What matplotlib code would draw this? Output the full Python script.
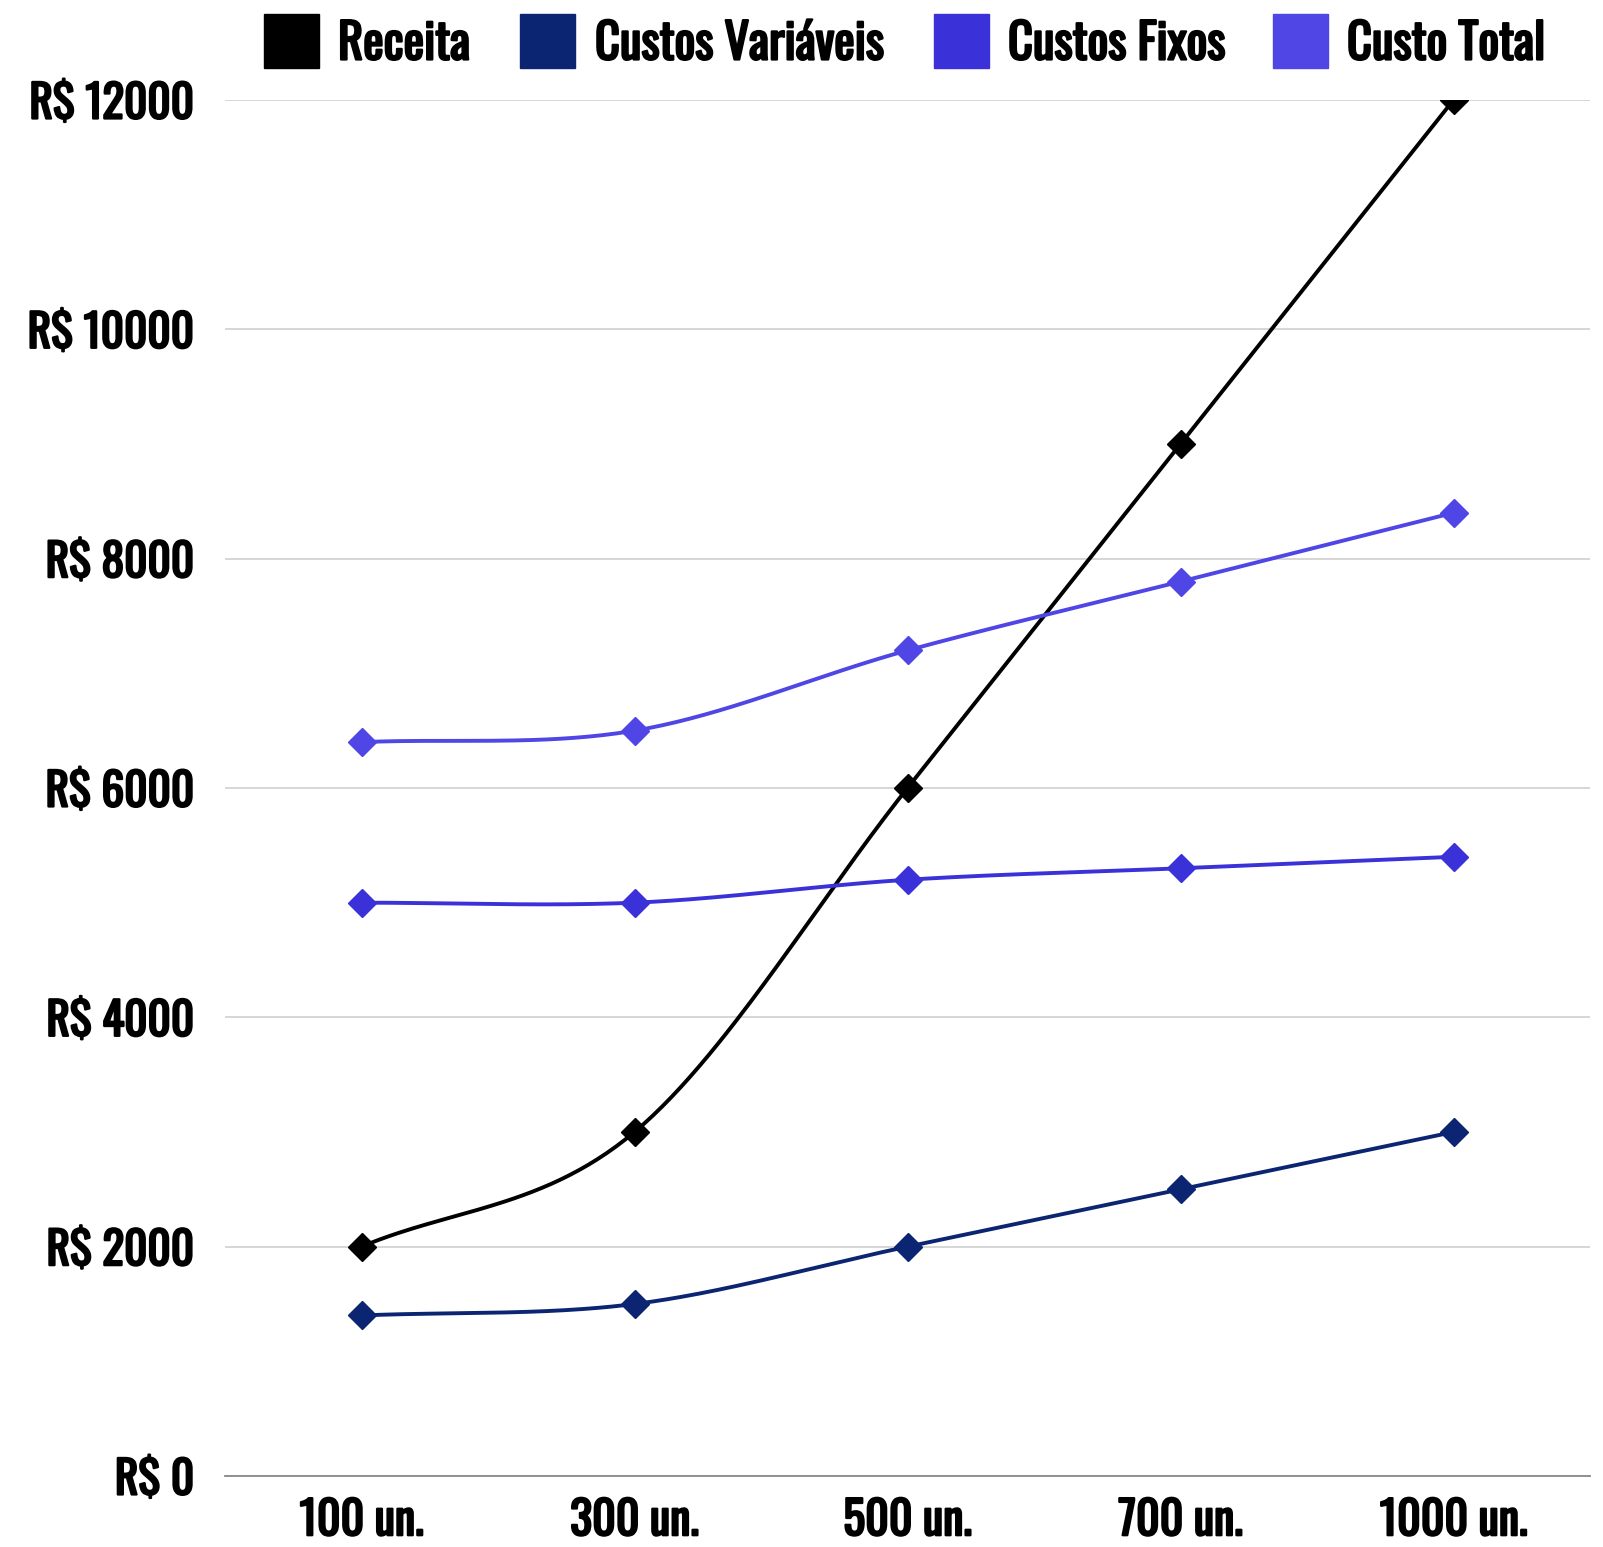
import numpy as np
import matplotlib
matplotlib.use("Agg")
import matplotlib.pyplot as plt
import matplotlib.patheffects as pe
from matplotlib.patches import Rectangle

categories = ["100 un.", "300 un.", "500 un.", "700 un.", "1000 un."]
receita = [2000, 3000, 6000, 9000, 12000]
custos_variaveis = [1400, 1500, 2000, 2500, 3000]
custos_fixos = [5000, 5000, 5200, 5300, 5400]
custo_total = [6400, 6500, 7200, 7800, 8400]
series_names = ["Receita", "Custos Variáveis", "Custos Fixos", "Custo Total"]
y_ticks = [0, 2000, 4000, 6000, 8000, 10000, 12000]

colors = ["#000000", "#0c2573", "#3a31d8", "#4f46e5"]
FONT = ["Oswald", "Roboto Condensed", "DejaVu Sans"]
plt.rcParams["font.family"] = FONT
FS_Y = 32.5
FS_X = 33
FS_LEG = 35
BOLD = [pe.withStroke(linewidth=1.6, foreground="black")]


def smooth(y, n=60):
    y = np.asarray(y, float)
    k = len(y)
    m = np.zeros(k)
    m[0] = y[1] - y[0]
    m[-1] = y[-1] - y[-2]
    for i in range(1, k - 1):
        m[i] = (y[i + 1] - y[i - 1]) / 2
    xs, ys = [], []
    for i in range(k - 1):
        t = np.linspace(0, 1, n)
        h00 = 2 * t**3 - 3 * t**2 + 1
        h10 = t**3 - 2 * t**2 + t
        h01 = -2 * t**3 + 3 * t**2
        h11 = t**3 - t**2
        xs.append(i + t)
        ys.append(h00 * y[i] + h10 * m[i] + h01 * y[i + 1] + h11 * m[i + 1])
    return np.concatenate(xs), np.concatenate(ys)


W, H = 1603, 1547
fig = plt.figure(figsize=(W / 100, H / 100), dpi=100)
ax = fig.add_axes([225 / W, 1 - 1476 / H, (1590 - 225) / W, (1476 - 100) / H])

x = np.arange(len(categories))
for vals, c in zip([receita, custos_variaveis, custos_fixos, custo_total], colors):
    sx, sy = smooth(vals)
    ax.plot(sx, sy, color=c, lw=2.8, zorder=3, solid_capstyle="round")
    ax.plot(x, vals, linestyle="none", marker="D", ms=14.5, color=c, zorder=4)

ax.set_xlim(-0.5, len(categories) - 0.5)
ax.set_ylim(0, 12000)
ax.set_yticks(y_ticks)
ax.set_yticklabels([f"R$ {v}" for v in y_ticks])
ax.set_xticks(x)
ax.set_xticklabels(categories)
ax.tick_params(axis="y", length=0, pad=22, labelsize=FS_Y)
ax.tick_params(axis="x", length=0, pad=16, labelsize=FS_X)
for lab in ax.get_xticklabels() + ax.get_yticklabels():
    lab.set_fontweight("bold")
    lab.set_path_effects(BOLD)
for s in ["top", "right", "left"]:
    ax.spines[s].set_visible(False)
ax.spines["bottom"].set_color("#888888")
ax.spines["bottom"].set_linewidth(1.3)
ax.grid(axis="y", color="#cccccc", lw=1.1)
ax.set_axisbelow(True)

# legend
sq_x = [264, 520, 934, 1273]
tx_x = [338, 595, 1008, 1347]
for name, c, sx_, tx_ in zip(series_names, colors, sq_x, tx_x):
    fig.patches.append(Rectangle((sx_ / W, 1 - 68 / H), 55 / W, 54 / H,
                                 transform=fig.transFigure, color=c))
    fig.text(tx_ / W, 1 - 44 / H, name, fontsize=FS_LEG, fontweight="bold",
             va="center", ha="left", path_effects=BOLD)

fig.savefig("out.png", dpi=100)
